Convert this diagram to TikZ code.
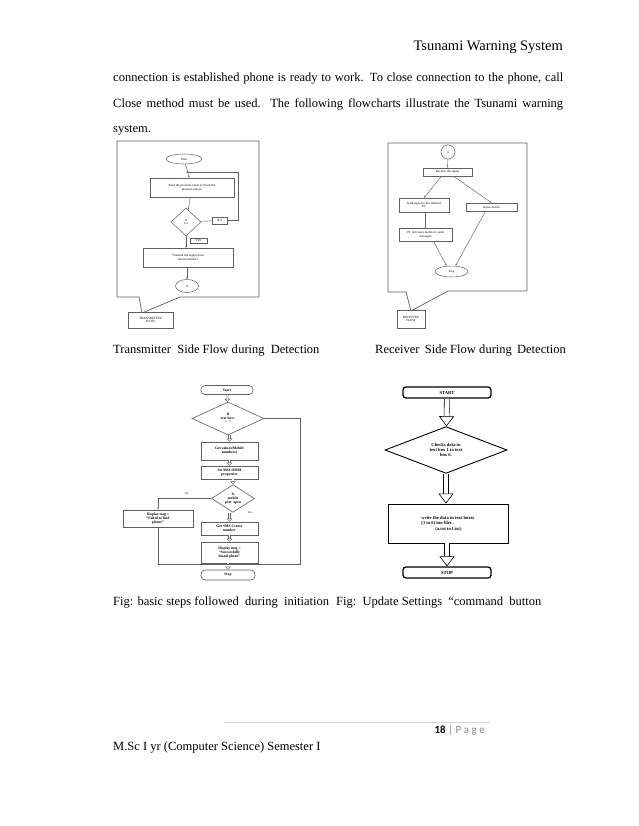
\documentclass[tikz,border=0pt]{standalone}
\usepackage{fontspec}
\setmainfont{Liberation Serif}
\newfontfamily\pagefont{Carlito}
\usetikzlibrary{shapes.geometric, arrows.meta, positioning, calc}
\definecolor{cLine}{RGB}{95,95,95}
\definecolor{cRule}{RGB}{214,214,214}
\definecolor{cPage}{RGB}{140,140,140}

\tikzset{
  pagetext/.style={anchor=base west, font=\fontsize{12.5}{15}\selectfont},
  fbox/.style={draw=cLine, line width=0.5pt, align=center, font=\fontsize{3.2}{3.7}\selectfont},
  fell/.style={fbox, ellipse},
  fdia/.style={fbox, diamond},
  flab/.style={fbox, fill=white, line width=0.6pt},
  frame/.style={draw=cLine, line width=0.7pt},
  fline/.style={draw=cLine, line width=0.45pt},
  farr/.style={fline, -{Stealth[length=2pt,width=1.6pt]}},
  ibox/.style={draw=cLine, line width=0.6pt, align=center, font=\bfseries\fontsize{3.7}{4.1}\selectfont},
  irnd/.style={ibox, rounded corners=4pt},
  idia/.style={ibox, diamond},
  iarr/.style={draw=cLine, line width=0.4pt, double=white, double distance=1.6pt, -{Triangle[open, fill=white, length=3pt, width=5.5pt]}},
  ubox/.style={draw=black, line width=0.9pt, align=center, font=\bfseries\fontsize{4.6}{5.4}\selectfont},
  urnd/.style={ubox, rounded corners=3pt, line width=1.3pt},
  udia/.style={ubox, diamond},
  uarr/.style={draw=black, line width=0.6pt, double=white, double distance=4.5pt, -{Triangle[open, fill=white, length=10pt, width=15pt]}}
}

\begin{document}
\begin{tikzpicture}[x=1pt, y=-1pt, every node/.style={inner sep=0pt}]
  \useasboundingbox (0,0) rectangle (638,826);
  \fill[white] (0,0) rectangle (638,826);

  % page text
  \node[pagetext, anchor=base east, font=\fontsize{14.5}{16}\selectfont] (head) at (563,51) {Tsunami Warning System};
  \node[pagetext] (par1) at (113,82) {\makebox[450pt][s]{connection is established phone is ready to work. To close connection to the phone, call}};
  \node[pagetext] (par2) at (113,108) {\makebox[450pt][s]{Close method must be used. The following flowcharts illustrate the Tsunami warning}};
  \node[pagetext] (par3) at (113,133) {system.};

  % transmitter flow
  \draw[frame] (117,141) -- (259,141) -- (259,297) -- (180,297) -- (142,313) -- (139,297) -- (117,297) -- cycle;
  \node[fell, minimum width=36, minimum height=10] (tstart) at (184,159) {Start};
  \node[fbox, minimum width=84, minimum height=19] (tread) at (192,187.5) {Read the pressure value (x) from the\\pressure sensor.};
  \node[fdia, minimum width=30, minimum height=28] (tif) at (186,222) {If\\x>t};
  \node[fbox, minimum width=15, minimum height=7] (tno) at (219.5,220.5) {NO};
  \node[fbox, minimum width=17, minimum height=5.5] (tyes) at (198.5,240.5) {YES};
  \node[fbox, minimum width=90, minimum height=19] (ttx) at (188,257.5) {Transmit the signal from\\microcontroller};
  \node[fell, minimum width=23, minimum height=13] (ta) at (187,286) {A};
  \node[flab, minimum width=45, minimum height=16] (tlab) at (150.5,320) {TRANSMITTER\\FLOW};
  \coordinate (tcorner) at (238,172);
  \coordinate (tret) at (186,172);
  \draw[farr] (tstart) -- (tread);
  \draw[farr] (tread) -- (tif);
  \draw[fline] (tif) -- (tno);
  \draw[farr] (tno.east) -| (tcorner) -- (tret);
  \draw[farr] (tif.south) -- (tif.south |- ttx.north);
  \draw[farr] (ttx.south -| ta) -- (ta);

  % receiver flow
  \draw[frame] (388,143) -- (527,143) -- (527,291) -- (448,291) -- (411,311) -- (406,292) -- (388,292) -- cycle;
  \node[fbox, circle, minimum size=14] (ra) at (448,152) {A};
  \node[fbox, minimum width=49, minimum height=8] (rrecv) at (447.5,172) {Receive the signal};
  \node[fbox, minimum width=50, minimum height=14] (rsend) at (424,205) {Send signal to the attached\\PC};
  \node[fbox, minimum width=51, minimum height=8] (ralarm) at (491.5,207) {Raise Alarm};
  \node[fbox, minimum width=53, minimum height=13] (rpc) at (425.5,234.5) {PC Activates mobile to send\\messages};
  \node[fell, minimum width=33, minimum height=11] (rstop) at (451.5,271.5) {Stop};
  \node[flab, minimum width=28, minimum height=18] (rlab) at (411,319) {RECEIVER\\FLOW};
  \draw[farr] (ra) -- (rrecv);
  \draw[farr] ($(rrecv.south)+(-6,0)$) -- (rsend.north);
  \draw[farr] ($(rrecv.south)+(6,0)$) -- (ralarm.north);
  \draw[fline] (rsend.south -| rpc) -- (rpc.north);
  \draw[farr] ($(rpc.south)+(8,0)$) -- ($(rstop.north)+(-5,0)$);
  \draw[farr] ($(ralarm.south)+(-6,0)$) -- ($(rstop.north)+(4,0)$);

  \node[pagetext] (capt) at (113,353) {Transmitter\ \ Side Flow d\kern0.5pt uring\ \ Detection};
  \node[pagetext] (capr) at (375,353) {Receiver\ \,Side Flow d\kern0.3pt uring\ \,Detection};

  % initiation flow
  \node[irnd, minimum width=52, minimum height=9] (istart) at (227,390) {Start};
  \node[idia, minimum width=72, minimum height=33] (iif) at (228,418.5) {If\\text box=\\“\ \ ”};
  \node[ibox, minimum width=57, minimum height=18] (iget) at (229.5,451) {Get values(Mobile\\numbers)};
  \node[ibox, minimum width=57, minimum height=13] (iset) at (229.5,472.5) {Set MSCOMM\\properties};
  \node[idia, minimum width=43, minimum height=25] (iport) at (233,498.5) {Is\\mobile\\port\ \ open};
  \node[ibox, minimum width=70, minimum height=17] (ifail) at (158,518.5) {Display msg =\\“Failed to find\\phone”};
  \node[ibox, minimum width=57, minimum height=13] (isms) at (229.5,528.5) {Get SMS Center\\number};
  \node[ibox, minimum width=57, minimum height=21] (iok) at (229.5,552.5) {Display msg =\\“Successfully\\found phone”};
  \node[irnd, minimum width=54, minimum height=10] (istop) at (228,575) {Stop};
  \node[font=\fontsize{2.8}{3}\selectfont] (ino) at (187,494) {No};
  \node[font=\fontsize{2.8}{3}\selectfont] (iyes) at (250,513) {Yes};
  \coordinate (iright) at (300,564);
  \coordinate (ijoin) at (230,564);
  \draw[iarr] (istart) -- (iif);
  \draw[iarr] (iif.south -| iget) -- (iget);
  \draw[iarr] (iget) -- (iset);
  \draw[iarr] (iset.south -| iport) -- (iport);
  \draw[iarr] (iport.south -| isms) -- (isms);
  \draw[iarr] (isms) -- (iok);
  \draw[iarr] (iok.south -| istop) -- (istop);
  \draw[fline] (iif.east) -| (iright) -- (ijoin);
  \draw[farr] (iport.west) -| (ifail.north);
  \draw[fline] (ifail.south) |- (ijoin);

  % update settings flow
  \node[urnd, minimum width=88, minimum height=11] (ustart) at (447,392.5) {START};
  \node[udia, minimum width=122, minimum height=46] (uchk) at (446,450) {Checks data in\\text box 1 to text\\box 6.};
  \node[ubox, minimum width=120, minimum height=39, align=left] (uwr) at (448,523.5) {write the data in text boxes\\(1 to 6) ino files .\\\hspace{14pt}(a.txt to f.txt)};
  \node[urnd, minimum width=88, minimum height=11] (ustop) at (447,572.5) {STOP};
  \draw[uarr] (ustart) -- (uchk);
  \draw[uarr] (uchk.south) -- (uchk.south |- uwr.north);
  \draw[uarr] (uwr.south -| ustop) -- (ustop);

  \node[pagetext] (capi) at (113,605) {Fig: basic steps followed\ \ during\ \ initiation};
  \node[pagetext] (capu) at (336,605) {Fig:\ \ Update Settings\ \ “command\ \ button};

  % footer
  \draw[cRule, line width=1pt] (224,722) -- (490,722);
  \node[anchor=base east, font=\pagefont\fontsize{11}{13}\selectfont] (pgno) at (485,733) {\textbf{18} \textcolor{cPage}{|\ P\ a\ g\ e}};
  \node[pagetext] (foot) at (113,750) {M.Sc I yr (Computer\ Science)\ Semester\ I};
\end{tikzpicture}
\end{document}
